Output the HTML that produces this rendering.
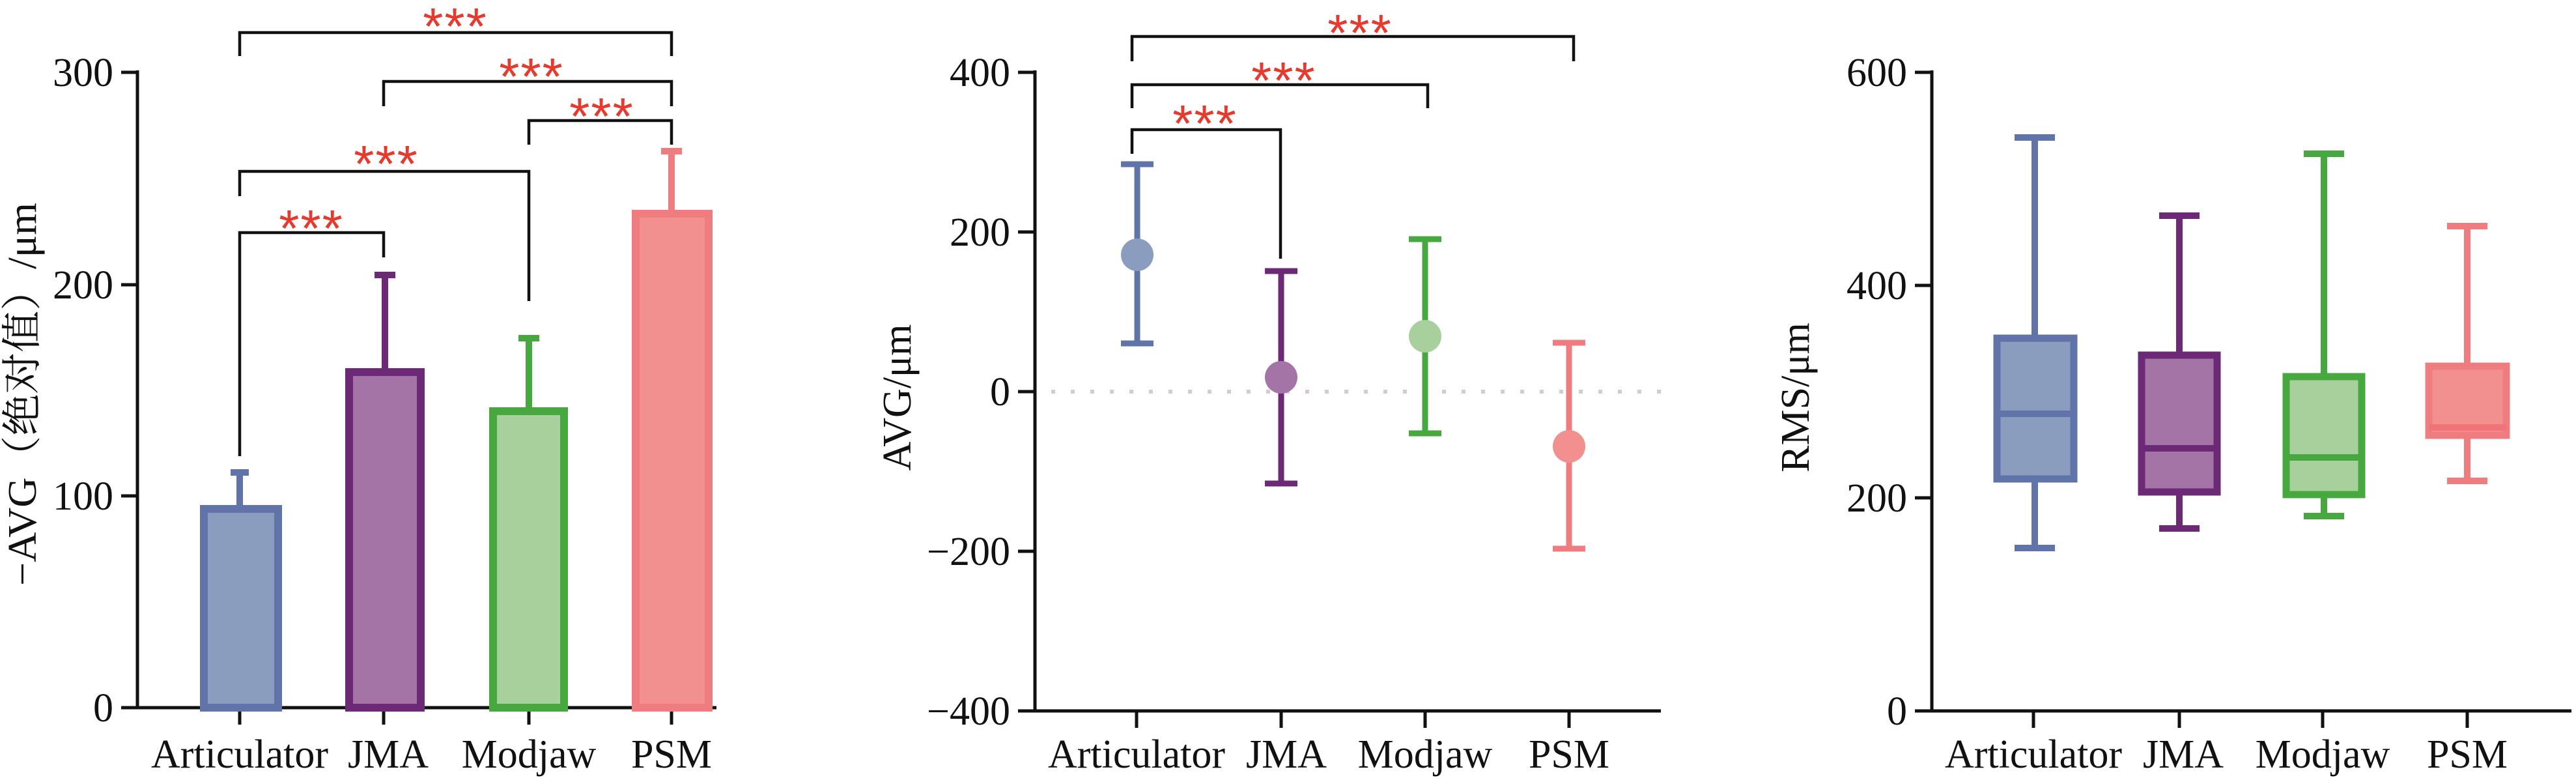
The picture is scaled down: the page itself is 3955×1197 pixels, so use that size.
<!DOCTYPE html>
<html><head><meta charset="utf-8"><style>
html,body{margin:0;padding:0;background:#fff}
svg{display:block}
text{font-family:"Liberation Serif","Noto Serif CJK SC",serif;fill:#111}
.st{font-family:"Liberation Sans",sans-serif;fill:#e63a2e;font-size:80px;letter-spacing:2px}
</style></head><body>
<svg width="3955" height="1197" viewBox="0 0 3955 1197" xmlns="http://www.w3.org/2000/svg">
<g stroke="#111" stroke-width="5" fill="none">
<path d="M211,108 V1088 M186,1086 H1100 M186,111 H211 M186,437 H211 M186,761 H211 M186,1086 H211"/>
<path d="M368,1086 V1112 M589,1086 V1112 M812,1086 V1112 M1031,1086 V1112"/>
<path d="M1589,108 V1093 M1563,1091 H2550 M1563,111 H1589 M1563,356 H1589 M1563,601 H1589 M1563,846 H1589 M1563,1091 H1589"/>
<path d="M1745,1091 V1117 M1967,1091 V1117 M2188,1091 V1117 M2409,1091 V1117"/>
<path d="M2966,108 V1093 M2940,1091 H3948 M2940,111 H2966 M2940,438 H2966 M2940,764 H2966 M2940,1091 H2966"/>
<path d="M3122,1091 V1117 M3346,1091 V1117 M3566,1091 V1117 M3788,1091 V1117"/>
</g>
<g stroke="#111" stroke-width="4.5" fill="none">
<path d="M368,86 V50 H1031 V86"/>
<path d="M589,163 V125 H1031 V163"/>
<path d="M812,222 V185 H1031 V222"/>
<path d="M368,301 V263 H812 V462"/>
<path d="M368,700 V357 H589 V395"/>
<path d="M1738,94 V56 H2416 V94"/>
<path d="M1738,166 V130 H2192 V166"/>
<path d="M1738,236 V199 H1966 V397"/>
</g>
<g text-anchor="middle">
<text class="st" x="699" y="68">***</text>
<text class="st" x="816" y="145">***</text>
<text class="st" x="924" y="206">***</text>
<text class="st" x="593" y="279">***</text>
<text class="st" x="478" y="378">***</text>
<text class="st" x="2088" y="78">***</text>
<text class="st" x="1971" y="151">***</text>
<text class="st" x="1850" y="217">***</text>
</g>
<g stroke-width="12">
<rect x="313" y="781" width="114" height="305" fill="#8a9dbf" stroke="#6074aa"/>
<rect x="536" y="571" width="110" height="515" fill="#a474a6" stroke="#6c2a76"/>
<rect x="757" y="631" width="109" height="455" fill="#a8d09c" stroke="#46a83e"/>
<rect x="976" y="328" width="112" height="758" fill="#f29090" stroke="#ef7c7f"/>
</g>
<g stroke-width="10" fill="none">
<path d="M368,778 V725 M354,725 H382" stroke="#6074aa"/>
<path d="M591,568 V422 M575,422 H607" stroke="#6c2a76"/>
<path d="M812,628 V519 M796,519 H828" stroke="#46a83e"/>
<path d="M1031,325 V232 M1015,232 H1047" stroke="#ef7c7f"/>
</g>
<line x1="1614" y1="601" x2="2550" y2="601" stroke="#d3cbce" stroke-width="6" stroke-dasharray="6 24"/>
<g stroke-width="9" fill="none">
<path d="M1746,252 V527 M1721,252 H1771 M1721,527 H1771" stroke="#6074aa"/>
<path d="M1967,416 V742 M1942,416 H1992 M1942,742 H1992" stroke="#6c2a76"/>
<path d="M2188,367 V665 M2163,367 H2213 M2163,665 H2213" stroke="#46a83e"/>
<path d="M2409,526 V842 M2384,526 H2434 M2384,842 H2434" stroke="#ef7c7f"/>
</g>
<circle cx="1746" cy="391" r="25" fill="#8a9dbf"/>
<circle cx="1967" cy="579" r="25" fill="#a474a6"/>
<circle cx="2188" cy="516" r="25" fill="#a8d09c"/>
<circle cx="2409" cy="685" r="25" fill="#f29090"/>
<g stroke-width="10" fill="none">
<path d="M3124,211 V841 M3093,211 H3155 M3093,841 H3155" stroke="#6074aa"/>
<path d="M3346,331 V811 M3315,331 H3377 M3315,811 H3377" stroke="#6c2a76"/>
<path d="M3568,236 V792 M3537,236 H3599 M3537,792 H3599" stroke="#46a83e"/>
<path d="M3788,347 V738 M3757,347 H3819 M3757,738 H3819" stroke="#ef7c7f"/>
</g>
<g stroke-width="11">
<rect x="3066" y="519" width="118" height="216" fill="#8a9dbf" stroke="#6074aa"/>
<rect x="3288" y="545" width="116" height="210" fill="#a474a6" stroke="#6c2a76"/>
<rect x="3510" y="578" width="116" height="181" fill="#a8d09c" stroke="#46a83e"/>
<rect x="3729" y="562" width="119" height="106" fill="#f29090" stroke="#ef7c7f"/>
</g>
<g stroke-width="10">
<line x1="3066" y1="635" x2="3184" y2="635" stroke="#6074aa"/>
<line x1="3288" y1="688" x2="3404" y2="688" stroke="#6c2a76"/>
<line x1="3510" y1="702" x2="3626" y2="702" stroke="#46a83e"/>
<line x1="3729" y1="656" x2="3848" y2="656" stroke="#ee7477"/>
</g>
<g font-size="62" text-anchor="end">
<text x="174" y="132">300</text><text x="174" y="458">200</text><text x="174" y="782">100</text><text x="174" y="1107">0</text>
<text x="1551" y="132">400</text><text x="1551" y="377">200</text><text x="1551" y="622">0</text><text x="1551" y="867">−200</text><text x="1551" y="1112">−400</text>
<text x="2928" y="132">600</text><text x="2928" y="459">400</text><text x="2928" y="785">200</text><text x="2928" y="1112">0</text>
</g>
<g font-size="62" text-anchor="middle">
<text x="368" y="1178">Articulator</text><text x="596" y="1178">JMA</text><text x="812" y="1178">Modjaw</text><text x="1031" y="1178">PSM</text>
<text x="1745" y="1178">Articulator</text><text x="1975" y="1178">JMA</text><text x="2188" y="1178">Modjaw</text><text x="2409" y="1178">PSM</text>
<text x="3122" y="1178">Articulator</text><text x="3352" y="1178">JMA</text><text x="3566" y="1178">Modjaw</text><text x="3788" y="1178">PSM</text>
</g>
<g font-size="62" text-anchor="middle">
<text transform="translate(55,605) rotate(-90)" textLength="588" lengthAdjust="spacingAndGlyphs">−AVG（绝对值）/μm</text>
<text transform="translate(1398,610) rotate(-90)">AVG/μm</text>
<text transform="translate(2777,610) rotate(-90)">RMS/μm</text>
</g>
</svg>
</body></html>
